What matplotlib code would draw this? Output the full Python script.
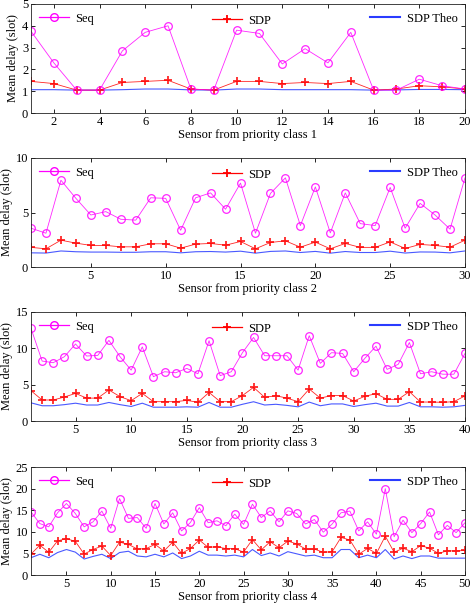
import matplotlib
matplotlib.use("Agg")
import matplotlib.pyplot as plt
from matplotlib.lines import Line2D

plt.rcParams['font.family'] = ['Liberation Serif', 'DejaVu Serif']
plt.rcParams['mathtext.fontset'] = 'stix'

# ---------------- data ----------------
seq1 = [3.75, 2.3, 1.05, 1.05, 2.85, 3.7, 4.0, 1.1, 1.05, 3.8, 3.65, 2.25, 2.95, 2.3, 3.7, 1.05, 1.05, 1.55, 1.25, 1.1]
sdp1 = [1.45, 1.35, 1.05, 1.05, 1.4, 1.45, 1.5, 1.1, 1.05, 1.45, 1.45, 1.35, 1.4, 1.35, 1.45, 1.05, 1.1, 1.25, 1.2, 1.1]
theo1 = [1.07, 1.07, 1.05, 1.05, 1.07, 1.1, 1.1, 1.06, 1.05, 1.1, 1.1, 1.07, 1.07, 1.07, 1.07, 1.05, 1.06, 1.08, 1.08, 1.07]

seq2 = [3.56, 3.1, 7.96, 6.3, 4.77, 5.08, 4.38, 4.3, 6.35, 6.3, 3.37, 6.35, 6.8, 5.3, 7.7,
        3.1, 6.75, 8.18, 3.8, 7.35, 3.13, 6.8, 3.98, 3.8, 7.3, 3.56, 5.84, 4.77, 3.47, 8.18]
sdp2 = [1.8, 1.67, 2.46, 2.19, 1.98, 1.98, 1.85, 1.85, 2.13, 2.13, 1.73, 2.1, 2.16, 2.0, 2.34,
        1.67, 2.25, 2.4, 1.82, 2.28, 1.67, 2.16, 1.8, 1.8, 2.3, 1.7, 2.07, 1.98, 1.82, 2.46]
theo2 = [1.3, 1.28, 1.47, 1.4, 1.37, 1.37, 1.35, 1.35, 1.4, 1.4, 1.3, 1.4, 1.42, 1.37, 1.45,
         1.27, 1.43, 1.47, 1.33, 1.43, 1.27, 1.42, 1.33, 1.33, 1.45, 1.28, 1.38, 1.37, 1.3, 1.47]

seq3 = [12.75, 8.25, 8.02, 8.85, 10.6, 8.94, 9.03, 11.1, 8.85, 7.0, 10.2, 6.1, 6.78, 6.64, 7.24,
        6.5, 11.05, 6.24, 6.78, 9.4, 11.5, 8.98, 8.98, 8.98, 7.0, 11.74, 7.93, 9.4, 9.3, 6.78,
        8.62, 10.3, 7.1, 7.8, 10.8, 6.5, 6.78, 6.44, 6.44, 9.3]
sdp3 = [4.17, 2.89, 2.89, 3.3, 3.8, 3.15, 3.15, 4.27, 3.35, 2.8, 3.8, 2.66, 2.66, 2.66, 2.84,
        2.57, 3.93, 2.66, 2.66, 3.5, 4.63, 3.25, 3.48, 3.15, 2.66, 4.4, 3.15, 3.5, 3.5, 2.75,
        3.4, 3.76, 2.98, 2.98, 4.04, 2.61, 2.61, 2.57, 2.66, 3.45]
theo3 = [2.5, 2.1, 2.1, 2.25, 2.45, 2.2, 2.2, 2.55, 2.25, 2.0, 2.45, 1.9, 1.9, 1.9, 1.95,
         1.9, 2.55, 1.9, 1.9, 2.3, 2.65, 2.2, 2.3, 2.15, 1.95, 2.6, 2.1, 2.35, 2.35, 2.0,
         2.25, 2.45, 2.05, 2.05, 2.55, 1.95, 1.95, 1.9, 1.95, 2.15]

seq4 = [14.6, 11.9, 11.15, 14.4, 16.55, 14.25, 11.15, 12.3, 14.8, 10.8, 17.7, 13.1, 13.3, 10.8, 16.55,
        11.8, 14.4, 10.2, 12.16, 15.6, 12.1, 12.55, 11.4, 14.1, 11.7, 16.4, 13.3, 14.85, 12.3, 14.85,
        14.25, 11.8, 12.85, 9.9, 11.8, 14.4, 14.8, 10.2, 12.3, 9.45, 20.0, 8.85, 12.7, 9.8, 11.9,
        14.6, 9.3, 11.5, 9.8, 12.1]
sdp4 = [4.85, 6.9, 5.25, 7.9, 8.4, 7.8, 4.85, 5.9, 6.7, 4.5, 7.6, 7.1, 6.0, 6.1, 7.1,
        5.55, 7.6, 5.0, 6.15, 8.1, 6.4, 6.55, 6.1, 6.1, 5.3, 8.2, 5.8, 7.7, 6.3, 7.85,
        7.2, 6.0, 6.0, 5.25, 5.4, 8.7, 8.1, 4.8, 6.15, 5.0, 9.0, 5.25, 6.2, 5.4, 6.8,
        6.2, 5.0, 5.6, 5.55, 5.7]
theo4 = [4.0, 4.8, 4.0, 5.2, 5.9, 5.3, 3.7, 4.3, 4.8, 3.8, 5.2, 5.5, 4.4, 4.2, 4.8,
         4.2, 5.1, 3.8, 4.4, 5.5, 4.6, 4.6, 4.4, 4.6, 4.2, 5.9, 4.5, 5.1, 4.4, 5.4,
         4.9, 4.4, 4.6, 4.0, 4.0, 5.9, 5.9, 4.0, 4.6, 4.0, 5.9, 3.7, 4.4, 3.8, 4.4,
         4.4, 3.9, 3.9, 3.9, 3.9]

panels = [
    (seq1, sdp1, theo1, 'Sensor from priority class 1', 5, 1, 2),
    (seq2, sdp2, theo2, 'Sensor from priority class 2', 10, 5, 5),
    (seq3, sdp3, theo3, 'Sensor from priority class 3', 15, 5, 5),
    (seq4, sdp4, theo4, 'Sensor from priority class 4', 25, 5, 5),
]

fig = plt.figure(figsize=(4.71, 6.05), dpi=100)
tops = [4, 158, 312, 467]
bots = [113, 267, 421, 575]
L, R = 31, 465
W, H = 471.0, 605.0
fs = 8.5

SEQ_C = '#ff00ff'
SDP_C = '#ff0000'
THEO_C = '#2a3cff'

for (seq, sdp, theo, xl, ymax, ystep, xstep), t, b in zip(panels, tops, bots):
    ax = fig.add_axes([L / W, 1 - b / H, (R - L) / W, (b - t) / H])
    n = len(seq)
    x = list(range(1, n + 1))
    ax.plot(x, theo, color=THEO_C, lw=0.8, alpha=0.85)
    ax.plot(x, sdp, color=SDP_C, lw=0.6, marker='+', ms=5.5, mew=1.3, alpha=0.85)
    ax.plot(x, seq, color=SEQ_C, lw=0.6, marker='o', ms=5.5, mew=0.9, mfc='none', alpha=0.85)
    ax.set_xlim(1, n)
    ax.set_ylim(0, ymax)
    ax.set_yticks(list(range(0, ymax + 1, ystep)))
    ax.set_xticks(list(range(xstep, n + 1, xstep)))
    ax.tick_params(direction='in', top=True, right=True, labelsize=fs + 0.5, length=3, width=0.6, pad=2)
    for s in ax.spines.values():
        s.set_linewidth(0.6)
        s.set_color('#222222')
    ax.set_xlabel(xl, fontsize=fs + 0.5, labelpad=1)
    ax.set_ylabel('Mean delay (slot)', fontsize=fs + 0.5, labelpad=2)

    h_seq = Line2D([], [], color=SEQ_C, lw=0.9, marker='o', ms=5.5, mfc='none')
    h_sdp = Line2D([], [], color=SDP_C, lw=0.9, marker='+', ms=6, mew=1.3)
    h_theo = Line2D([], [], color=THEO_C, lw=1.5)
    kw = dict(frameon=False, fontsize=fs + 0.5, handlelength=2.4, handletextpad=0.5, borderaxespad=0.2)
    l1 = ax.legend([h_seq], ['Seq'], loc='upper left', bbox_to_anchor=(0.0, 0.99), **kw)
    ax.add_artist(l1)
    l2 = ax.legend([h_sdp], ['SDP'], loc='upper center', bbox_to_anchor=(0.485, 0.97), **kw)
    ax.add_artist(l2)
    ax.legend([h_theo], ['SDP Theo'], loc='upper right', bbox_to_anchor=(1.0, 0.99), **kw)

fig.savefig('out.png', dpi=100)
